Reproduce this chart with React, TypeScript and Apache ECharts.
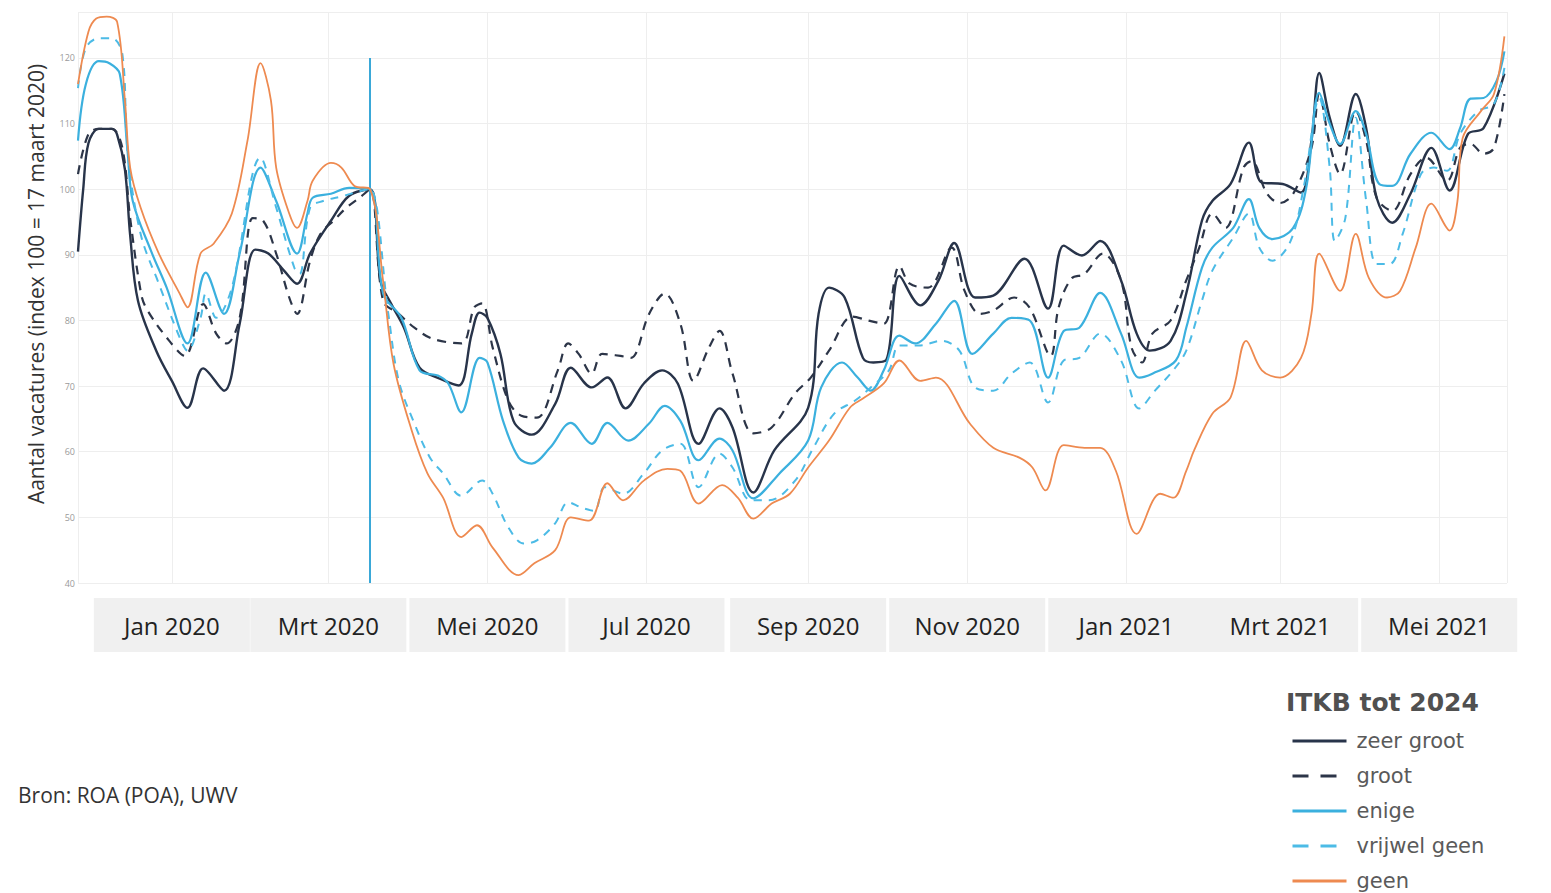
import React, { useEffect, useRef } from 'react';
import * as echarts from 'echarts';

const monthLabels = ['Jan', 'Feb', 'Mrt', 'Apr', 'Mei', 'Jun', 'Jul', 'Aug', 'Sep', 'Okt', 'Nov', 'Dec'];
const referenceDate = '2020-03-17';
const axisStart = '2019-11-26';
const axisEnd = '2021-05-27';
const seriesNames = ['zeer groot', 'groot', 'enige', 'vrijwel geen', 'geen'];

const zeerGroot: [string, number][] = [
  ['2019-11-26', 90.5], ['2019-11-28', 100], ['2019-11-30', 107], ['2019-12-04', 109.2], ['2019-12-09', 109.2], ['2019-12-11', 108.3], ['2019-12-14', 103], ['2019-12-16', 93], ['2019-12-19', 83], ['2019-12-26', 75.4], ['2020-01-01', 70.8], ['2020-01-07', 66.7], ['2020-01-13', 72.7], ['2020-01-21', 69.3], ['2020-01-27', 79.5], ['2020-02-02', 90.8], ['2020-02-07', 90.2], ['2020-02-13', 87.6], ['2020-02-18', 85.6], ['2020-02-23', 90.2], ['2020-03-02', 95.2], ['2020-03-09', 99], ['2020-03-17', 100],
  ['2020-03-21', 86], ['2020-03-25', 82.6], ['2020-03-30', 78.9], ['2020-04-05', 72.8], ['2020-04-13', 71.1], ['2020-04-20', 70.1], ['2020-04-25', 78], ['2020-04-28', 81.2], ['2020-05-01', 80.4], ['2020-05-06', 74.9], ['2020-05-11', 64.7], ['2020-05-18', 62.6], ['2020-05-27', 67.3], ['2020-06-02', 72.8], ['2020-06-10', 69.8], ['2020-06-16', 71.3], ['2020-06-23', 66.6], ['2020-06-30', 70.4], ['2020-07-07', 72.4], ['2020-07-13', 70.4], ['2020-07-21', 61.2], ['2020-07-29', 66.6], ['2020-08-03', 63.7], ['2020-08-11', 53.8], ['2020-08-19', 60.2], ['2020-09-01', 66.7], ['2020-09-05', 81], ['2020-09-09', 85], ['2020-09-15', 83.5], ['2020-09-22', 74.3], ['2020-09-26', 73.6], ['2020-10-01', 74], ['2020-10-06', 86.8], ['2020-10-14', 82.3], ['2020-10-21', 86.1], ['2020-10-27', 91.8], ['2020-11-04', 83.5], ['2020-11-11', 83.8], ['2020-11-23', 89.4], ['2020-12-02', 81.8], ['2020-12-08', 91.4], ['2020-12-15', 89.9], ['2020-12-22', 92.1], ['2020-12-30', 86.1],
  ['2021-01-05', 78], ['2021-01-10', 75.4], ['2021-01-18', 76.9], ['2021-01-24', 84.1], ['2021-01-30', 95.2], ['2021-02-03', 98.2], ['2021-02-10', 100.8], ['2021-02-17', 107.1], ['2021-02-22', 101], ['2021-03-02', 100.8], ['2021-03-09', 99.5], ['2021-03-13', 107.4], ['2021-03-16', 117.7], ['2021-03-20', 110.9], ['2021-03-24', 106.6], ['2021-03-30', 114.5], ['2021-04-03', 109.3], ['2021-04-07', 98.7], ['2021-04-13', 94.9], ['2021-04-20', 99.3], ['2021-04-28', 106.3], ['2021-05-05', 99.8], ['2021-05-12', 108.4], ['2021-05-18', 109.3], ['2021-05-26', 117.6],
];

const groot: [string, number][] = [
  ['2019-11-26', 102.3], ['2019-11-30', 108.4], ['2019-12-04', 109.2], ['2019-12-09', 109.2], ['2019-12-13', 106.3], ['2019-12-16', 95.6], ['2019-12-20', 84.5], ['2019-12-22', 82], ['2019-12-30', 77.4], ['2020-01-06', 74.6], ['2020-01-13', 82.5], ['2020-01-18', 78], ['2020-01-22', 76.5], ['2020-01-27', 80.4], ['2020-02-01', 95.6], ['2020-02-05', 95.2], ['2020-02-10', 90.2], ['2020-02-15', 83.5], ['2020-02-18', 81], ['2020-02-23', 89.1], ['2020-02-27', 93.2], ['2020-03-03', 95.2], ['2020-03-08', 97.2], ['2020-03-13', 98.7], ['2020-03-17', 100],
  ['2020-03-22', 83], ['2020-03-28', 81], ['2020-04-03', 78.9], ['2020-04-10', 77.2], ['2020-04-21', 76.5], ['2020-04-26', 82], ['2020-04-29', 82.6], ['2020-05-03', 75.9], ['2020-05-09', 67.8], ['2020-05-14', 65.5], ['2020-05-20', 65.2], ['2020-05-28', 72.4], ['2020-06-01', 76.5], ['2020-06-05', 74.9], ['2020-06-10', 71.9], ['2020-06-14', 74.9], ['2020-06-21', 74.6], ['2020-06-25', 74.3], ['2020-07-02', 81], ['2020-07-08', 84.1], ['2020-07-14', 79.5], ['2020-07-19', 70.8], ['2020-07-25', 75.9], ['2020-07-29', 78.4], ['2020-08-03', 71.9], ['2020-08-11', 62.8], ['2020-08-18', 63.7], ['2020-08-27', 68.9], ['2020-09-02', 71.3], ['2020-09-09', 75.4], ['2020-09-18', 80.6], ['2020-09-24', 80], ['2020-09-30', 79.5], ['2020-10-06', 88.3], ['2020-10-10', 85.6], ['2020-10-17', 85], ['2020-10-26', 91.1], ['2020-10-31', 84.5], ['2020-11-06', 81], ['2020-11-11', 81.5], ['2020-11-19', 83.5], ['2020-11-25', 81.9], ['2020-12-03', 74.6], ['2020-12-06', 81.9], ['2020-12-11', 86.4], ['2020-12-16', 87.1], ['2020-12-23', 90.2], ['2020-12-30', 86.1],
  ['2021-01-03', 75.9], ['2021-01-07', 73.6], ['2021-01-11', 78], ['2021-01-18', 80], ['2021-01-24', 86.1], ['2021-01-29', 91.1], ['2021-02-03', 96.3], ['2021-02-08', 94.1], ['2021-02-15', 103.3], ['2021-02-18', 104.3], ['2021-02-24', 99.3], ['2021-03-01', 97.9], ['2021-03-06', 99.3], ['2021-03-13', 106.3], ['2021-03-16', 114.5], ['2021-03-20', 106.9], ['2021-03-24', 102.3], ['2021-03-30', 111.9], ['2021-04-03', 107.4], ['2021-04-07', 98.7], ['2021-04-13', 96.7], ['2021-04-20', 102.3], ['2021-04-26', 104.8], ['2021-05-04', 101.3], ['2021-05-09', 106.3], ['2021-05-13', 106.9], ['2021-05-18', 105.4], ['2021-05-22', 106.3], ['2021-05-26', 114.5],
];

const enige: [string, number][] = [
  ['2019-11-26', 107.4], ['2019-11-29', 116], ['2019-12-04', 119.5], ['2019-12-08', 119.2], ['2019-12-12', 117.6], ['2019-12-15', 105.8], ['2019-12-17', 98.2], ['2019-12-24', 90.6], ['2019-12-30', 85], ['2020-01-07', 76.5], ['2020-01-14', 87.3], ['2020-01-21', 81], ['2020-01-27', 90.2], ['2020-02-04', 103.3], ['2020-02-10', 98.2], ['2020-02-18', 90.2], ['2020-02-22', 96.3], ['2020-02-24', 98.7], ['2020-03-02', 99.3], ['2020-03-09', 100.2], ['2020-03-17', 100],
  ['2020-03-22', 84.1], ['2020-03-29', 80.4], ['2020-04-05', 72.4], ['2020-04-12', 71.6], ['2020-04-16', 70.4], ['2020-04-21', 66], ['2020-04-28', 74.3], ['2020-05-01', 73.6], ['2020-05-07', 64.7], ['2020-05-13', 59.1], ['2020-05-18', 58.2], ['2020-05-25', 60.6], ['2020-06-02', 64.4], ['2020-06-10', 61.2], ['2020-06-16', 64.4], ['2020-06-24', 61.7], ['2020-07-02', 64.3], ['2020-07-08', 67], ['2020-07-14', 64.7], ['2020-07-21', 58.7], ['2020-07-29', 62], ['2020-08-03', 60.2], ['2020-08-11', 52.9], ['2020-08-21', 56.7], ['2020-09-01', 61.7], ['2020-09-06', 69.8], ['2020-09-14', 73.6], ['2020-09-20', 71.3], ['2020-09-25', 69.3], ['2020-09-30', 72.4], ['2020-10-06', 77.7], ['2020-10-12', 76.5], ['2020-10-20', 79.5], ['2020-10-27', 83], ['2020-11-03', 74.9], ['2020-11-11', 78], ['2020-11-18', 80.4], ['2020-11-25', 80], ['2020-12-02', 71.3], ['2020-12-08', 78.4], ['2020-12-14', 78.9], ['2020-12-22', 84.2], ['2020-12-30', 78],
  ['2021-01-06', 71.3], ['2021-01-11', 71.9], ['2021-01-20', 73.9], ['2021-01-24', 78.9], ['2021-01-30', 88], ['2021-02-03', 91.1], ['2021-02-11', 94.1], ['2021-02-17', 98.5], ['2021-02-21', 94.1], ['2021-02-26', 92.4], ['2021-03-06', 94.1], ['2021-03-11', 100.2], ['2021-03-16', 114.7], ['2021-03-20', 110], ['2021-03-24', 106.9], ['2021-03-30', 111.9], ['2021-04-03', 108.4], ['2021-04-08', 100.8], ['2021-04-13', 100.5], ['2021-04-20', 105.4], ['2021-04-28', 108.6], ['2021-05-05', 106.1], ['2021-05-09', 109.3], ['2021-05-13', 113.8], ['2021-05-18', 113.9], ['2021-05-23', 116.5], ['2021-05-26', 121],
];

const vrijwelGeen: [string, number][] = [
  ['2019-11-26', 115.4], ['2019-11-29', 121.5], ['2019-12-04', 123], ['2019-12-09', 123], ['2019-12-13', 120.6], ['2019-12-15', 105.8], ['2019-12-20', 93.2], ['2019-12-27', 85.6], ['2020-01-04', 77.4], ['2020-01-07', 75.4], ['2020-01-12', 80.4], ['2020-01-14', 84.1], ['2020-01-18', 80.4], ['2020-01-24', 85], ['2020-02-04', 104.8], ['2020-02-10', 97.2], ['2020-02-17', 88], ['2020-02-19', 87.1], ['2020-02-23', 97.2], ['2020-02-28', 98.2], ['2020-03-07', 99], ['2020-03-13', 99.7], ['2020-03-17', 100],
  ['2020-03-24', 81], ['2020-03-28', 70.8], ['2020-04-03', 64.3], ['2020-04-09', 59.1], ['2020-04-14', 56.7], ['2020-04-21', 53.3], ['2020-04-29', 55.6], ['2020-05-03', 53.6], ['2020-05-09', 48.5], ['2020-05-15', 46], ['2020-05-20', 46.5], ['2020-05-27', 49.1], ['2020-06-01', 52.3], ['2020-06-06', 51.5], ['2020-06-11', 51], ['2020-06-15', 54.6], ['2020-06-22', 53.6], ['2020-06-30', 56.7], ['2020-07-07', 60.2], ['2020-07-14', 61.2], ['2020-07-21', 54.6], ['2020-07-29', 59.7], ['2020-08-03', 57.6], ['2020-08-10', 52.6], ['2020-08-17', 52.6], ['2020-08-27', 55.6], ['2020-09-03', 60.6], ['2020-09-11', 65.8], ['2020-09-19', 67.8], ['2020-09-25', 69.8], ['2020-10-02', 72.4], ['2020-10-06', 76.2], ['2020-10-14', 76.2], ['2020-10-22', 76.9], ['2020-10-29', 75.4], ['2020-11-04', 69.8], ['2020-11-11', 69.3], ['2020-11-18', 71.9], ['2020-11-25', 73.6], ['2020-12-02', 67.5], ['2020-12-08', 73.9], ['2020-12-14', 74.3], ['2020-12-22', 78], ['2020-12-30', 73.9],
  ['2021-01-06', 66.6], ['2021-01-12', 69.3], ['2021-01-19', 72.4], ['2021-01-24', 75.4], ['2021-01-30', 83], ['2021-02-03', 87.6], ['2021-02-11', 92.6], ['2021-02-17', 96.3], ['2021-02-21', 91.1], ['2021-02-26', 89.1], ['2021-03-05', 92.1], ['2021-03-10', 100.2], ['2021-03-16', 113.9], ['2021-03-20', 103.3], ['2021-03-22', 92.1], ['2021-03-26', 95.6], ['2021-03-30', 110.9], ['2021-04-03', 98.2], ['2021-04-07', 88.6], ['2021-04-12', 88.6], ['2021-04-17', 93.2], ['2021-04-24', 102.3], ['2021-04-29', 103.3], ['2021-05-04', 102.8], ['2021-05-09', 108.4], ['2021-05-16', 111.9], ['2021-05-22', 113], ['2021-05-26', 118.5],
];

const geen: [string, number][] = [
  ['2019-11-26', 116], ['2019-11-30', 124], ['2019-12-03', 126], ['2019-12-07', 126.3], ['2019-12-11', 125.5], ['2019-12-14', 113.5], ['2019-12-16', 103.3], ['2019-12-20', 97.2], ['2019-12-27', 90.2], ['2020-01-04', 84.1], ['2020-01-07', 82], ['2020-01-12', 90.2], ['2020-01-17', 91.7], ['2020-01-24', 96.3], ['2020-01-30', 107.4], ['2020-02-04', 119.2], ['2020-02-08', 113.5], ['2020-02-10', 103.3], ['2020-02-15', 96.3], ['2020-02-18', 94.1], ['2020-02-22', 98.2], ['2020-02-24', 101.3], ['2020-03-02', 104], ['2020-03-06', 103.3], ['2020-03-11', 100.5], ['2020-03-17', 100],
  ['2020-03-22', 86], ['2020-03-26', 73.4], ['2020-04-02', 63.2], ['2020-04-08', 56.7], ['2020-04-14', 53], ['2020-04-21', 47], ['2020-04-27', 48.8], ['2020-05-03', 45.4], ['2020-05-13', 41.2], ['2020-05-19', 43], ['2020-05-27', 45], ['2020-06-02', 50], ['2020-06-09', 49.5], ['2020-06-16', 55.2], ['2020-06-22', 52.6], ['2020-06-30', 55.6], ['2020-07-09', 57.4], ['2020-07-14', 57.1], ['2020-07-21', 52.1], ['2020-07-30', 54.9], ['2020-08-05', 53], ['2020-08-11', 49.8], ['2020-08-18', 52.1], ['2020-08-25', 53.6], ['2020-09-01', 57.6], ['2020-09-09', 61.7], ['2020-09-17', 66.7], ['2020-09-22', 68.1], ['2020-09-30', 70.4], ['2020-10-06', 73.9], ['2020-10-14', 70.8], ['2020-10-20', 71.3], ['2020-11-02', 64.3], ['2020-11-11', 60.6], ['2020-11-21', 59.1], ['2020-11-26', 57.6], ['2020-12-01', 54.1], ['2020-12-08', 61], ['2020-12-16', 60.6], ['2020-12-22', 60.6], ['2020-12-28', 57.1],
  ['2021-01-05', 47.5], ['2021-01-14', 53.6], ['2021-01-19', 53], ['2021-01-24', 57.1], ['2021-01-27', 60.2], ['2021-02-03', 65.8], ['2021-02-10', 68.3], ['2021-02-16', 76.9], ['2021-02-22', 72.4], ['2021-03-01', 71.3], ['2021-03-09', 74.3], ['2021-03-13', 81], ['2021-03-16', 90.2], ['2021-03-24', 84.5], ['2021-03-30', 93.2], ['2021-04-04', 86.5], ['2021-04-11', 83.5], ['2021-04-16', 84.5], ['2021-04-22', 91.1], ['2021-04-28', 97.8], ['2021-05-05', 93.7], ['2021-05-08', 98.2], ['2021-05-10', 107.8], ['2021-05-17', 111.9], ['2021-05-22', 114.5], ['2021-05-26', 123.3],
];

const seriesData = [zeerGroot, groot, enige, vrijwelGeen, geen];
const seriesColors = ['#28344a', '#2c3548', '#3bb0de', '#4cbbe6', '#ee8a50'];
const seriesDash: ('solid' | number[])[] = ['solid', [9, 7], 'solid', [8, 7], 'solid'];
const legendDash: ('solid' | number[])[] = ['solid', [16, 12], 'solid', [16, 12], 'solid'];
const seriesWidth = [2.4, 2.2, 2.2, 2, 1.8];

export default function App() {
  const ref = useRef<HTMLDivElement>(null);

  useEffect(() => {
    if (!ref.current) return;
    const chart = echarts.init(ref.current, null, { renderer: 'svg' });

    const series: any[] = seriesNames.map((name, i) => ({
      name,
      type: 'line',
      data: seriesData[i],
      smooth: 0.35,
      symbol: 'none',
      z: 2 + i,
      lineStyle: { color: seriesColors[i], width: seriesWidth[i], type: seriesDash[i] },
      itemStyle: { color: seriesColors[i] },
    }));
    series[2].markLine = {
      symbol: 'none',
      silent: true,
      label: { show: false },
      lineStyle: { color: '#3aa8d8', width: 2, type: 'solid' },
      data: [[{ coord: [referenceDate, 40] }, { coord: [referenceDate, 120] }]],
    };

    chart.setOption({
      animation: false,
      backgroundColor: '#ffffff',
      title: [
        {
          text: 'ITKB tot 2024',
          left: 1286,
          top: 690,
          padding: 0,
          textStyle: { fontFamily: 'DejaVu Sans', fontWeight: 'bold', fontSize: 25, color: '#505050' },
        },
        {
          text: 'Bron: ROA (POA), UWV',
          left: 18,
          top: 784,
          padding: 0,
          textStyle: { fontFamily: 'Open Sans', fontWeight: 'normal', fontSize: 21, color: '#333333' },
        },
      ],
      legend: {
        orient: 'vertical',
        left: 1291,
        top: 729,
        height: 175,
        padding: 0,
        itemWidth: 54,
        itemHeight: 12,
        itemGap: 11,
        data: seriesNames.map((name, i) => ({ name, lineStyle: { type: legendDash[i], width: 3 } })),
        itemStyle: { opacity: 0 },
        textStyle: { fontFamily: 'DejaVu Sans', fontSize: 21, color: '#5a5a5a', lineHeight: 24, padding: [0, 0, 0, 5] },
      },
      graphic: [
        {
          type: 'text',
          x: 36,
          y: 284,
          rotation: Math.PI / 2,
          style: {
            text: 'Aantal vacatures (index 100 = 17 maart 2020)',
            fontFamily: 'Open Sans',
            fontSize: 21,
            fill: '#333333',
            align: 'center',
            verticalAlign: 'middle',
          },
        },
      ],
      grid: { left: 78, right: 44, top: 12, bottom: 310, containLabel: false },
      xAxis: {
        type: 'time',
        min: axisStart,
        max: axisEnd,
        splitNumber: 7,
        axisLine: { show: false },
        axisTick: { show: false },
        splitLine: { show: true, lineStyle: { color: '#eeeeee', width: 1 } },
        axisLabel: {
          showMinLabel: false,
          showMaxLabel: false,
          hideOverlap: false,
          margin: 15,
          fontFamily: 'Open Sans',
          fontSize: 24,
          color: '#222222',
          backgroundColor: '#f0f0f0',
          width: 140,
          align: 'center',
          padding: [12, 8, 12, 8],
          lineHeight: 30,
          formatter: (value: number) => {
            const d = new Date(value);
            if (d.getDate() !== 1) return '';
            return monthLabels[d.getMonth()] + ' ' + d.getFullYear();
          },
        },
      },
      yAxis: {
        type: 'value',
        min: 40,
        max: 127,
        interval: 10,
        axisLine: { show: false },
        axisTick: { show: false },
        splitLine: { show: true, lineStyle: { color: '#eeeeee', width: 1 } },
        axisLabel: { showMaxLabel: false, fontSize: 9, color: '#9a9a9a', margin: 3, fontFamily: 'Open Sans' },
      },
      series,
    });

    return () => chart.dispose();
  }, []);

  return (
    <div
      ref={ref}
      style={{ position: 'fixed', left: 0, top: 0, width: 1551, height: 893, background: '#ffffff' }}
    />
  );
}
